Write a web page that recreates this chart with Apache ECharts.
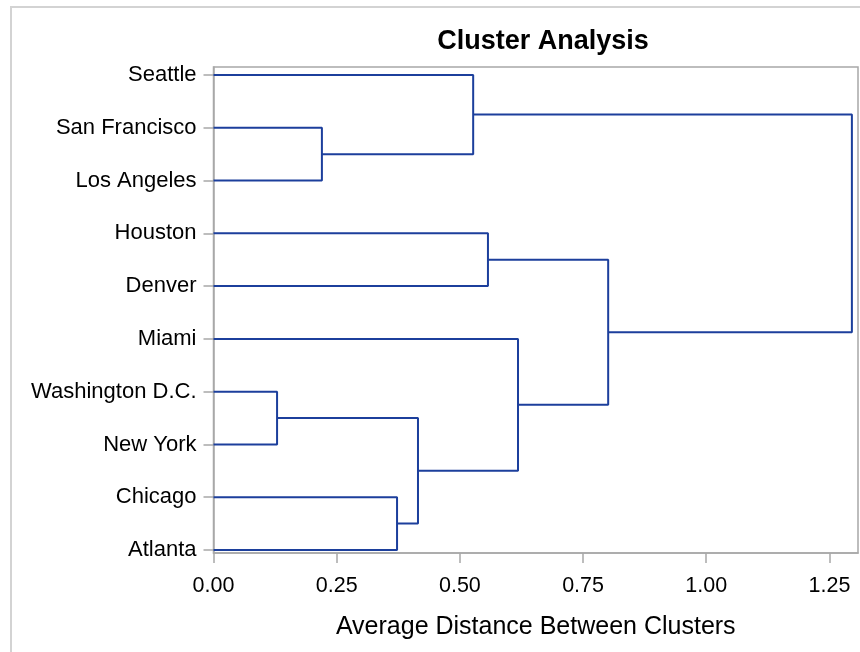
<!DOCTYPE html>
<html>
<head>
<meta charset="utf-8">
<script src="https://cdn.jsdelivr.net/npm/echarts@6/dist/echarts.min.js"></script>
<style>html,body{margin:0;padding:0;background:#fff;}#c{width:860px;height:652px;}</style>
</head>
<body>
<div id="c"></div>
<script>
// Leaves, top to bottom
const leaves = ['Seattle', 'San Francisco', 'Los Angeles', 'Houston', 'Denver', 'Miami', 'Washington D.C.', 'New York', 'Chicago', 'Atlanta'];
// Merges: node ids 0..9 are leaves, each merge creates node 10, 11, ...
const mergeLeft  = [6, 1, 8, 10, 0, 3, 5, 15, 14];
const mergeRight = [7, 2, 9, 12, 11, 4, 13, 16, 17];
const mergeHeight = [0.129, 0.220, 0.3725, 0.415, 0.527, 0.557, 0.618, 0.801, 1.2956];
const xTicks = [0, 0.25, 0.5, 0.75, 1.0, 1.25];

const FONT = '"Liberation Sans", Arial, sans-serif';
const LINE = '#1c3f9c';

// positions of nodes
const nodeX = leaves.map(() => 0);
const nodeY = leaves.map((_, i) => i);
const series = [];
for (let k = 0; k < mergeHeight.length; k++) {
  const a = mergeLeft[k], b = mergeRight[k], h = mergeHeight[k];
  series.push({
    type: 'line',
    data: [[nodeX[a], nodeY[a]], [h, nodeY[a]], [h, nodeY[b]], [nodeX[b], nodeY[b]]],
    symbol: 'none',
    silent: true,
    animation: false,
    lineStyle: { color: LINE, width: 2 }
  });
  nodeX.push(h);
  nodeY.push((nodeY[a] + nodeY[b]) / 2);
}

const chart = echarts.init(document.getElementById('c'), null, { renderer: 'canvas' });
chart.setOption({
  animation: false,
  backgroundColor: '#fff',
  title: {
    text: 'Cluster Analysis',
    left: 538,
    textAlign: 'center',
    top: 23,
    textStyle: { fontFamily: FONT, fontSize: 27, fontWeight: 'bold', color: '#000', lineHeight: 27 }
  },
  graphic: [{
    type: 'rect',
    shape: { x: 11, y: 7, width: 900, height: 700 },
    style: { fill: 'none', stroke: '#d3d3d3', lineWidth: 2 },
    silent: true
  }],
  grid: {
    left: 213.5, right: 2, top: 67, bottom: 99,
    show: true, borderColor: '#a8a8a8', borderWidth: 1.5, backgroundColor: 'transparent'
  },
  xAxis: {
    type: 'value',
    min: 0, max: 1.308,
    name: 'Average Distance Between Clusters',
    nameLocation: 'middle',
    nameGap: 62,
    nameTextStyle: { fontFamily: FONT, fontSize: 25, color: '#000', lineHeight: 25 },
    axisLine: { show: true, onZero: false, lineStyle: { color: '#a8a8a8', width: 1.5 } },
    axisTick: { show: true, length: 10, customValues: xTicks, lineStyle: { color: '#a8a8a8', width: 1.5 } },
    axisLabel: {
      customValues: xTicks,
      margin: 22,
      fontFamily: FONT, fontSize: 21.5, color: '#000',
      formatter: v => v.toFixed(2)
    },
    splitLine: { show: false }
  },
  yAxis: {
    type: 'value',
    inverse: true,
    min: -0.152, max: 9.057,
    axisLine: { show: true, onZero: false, lineStyle: { color: '#a8a8a8', width: 1.5 } },
    axisTick: { show: true, length: 10, customValues: leaves.map((_, i) => i), lineStyle: { color: '#a8a8a8', width: 1.5 } },
    axisLabel: {
      customValues: leaves.map((_, i) => i),
      margin: 17,
      fontFamily: FONT, fontSize: 22, color: '#000',
      formatter: v => leaves[Math.round(v)]
    },
    splitLine: { show: false }
  },
  series: series
});
</script>
</body>
</html>
